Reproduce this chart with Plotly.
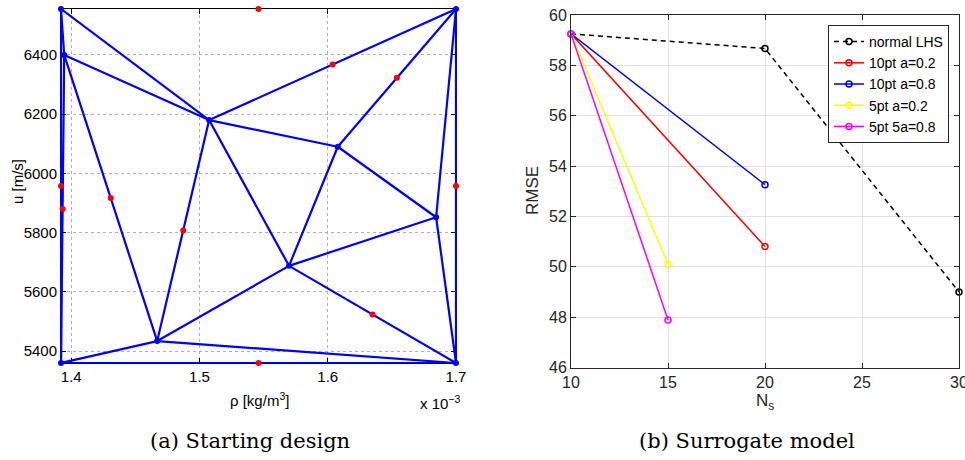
import plotly.graph_objects as go

# ---------------- Left panel data (rho in 1e-3 kg/m^3, u in m/s) ----------------
node_rho = [1.392, 1.700, 1.392, 1.700, 1.3945, 1.5075, 1.6078, 1.6845, 1.5698, 1.467]
node_u = [6555, 6555, 5360, 5360, 6400, 6180, 6090, 5852, 5688, 5434]
edges = [(0, 4), (4, 2), (0, 2), (0, 5), (4, 5), (4, 9), (5, 1), (5, 6), (6, 1),
         (5, 9), (5, 8), (6, 8), (6, 7), (7, 1), (7, 3), (8, 7), (8, 9), (8, 3),
         (9, 2), (9, 3), (2, 3), (1, 3)]
red_rho = [1.546, 1.546, 1.392, 1.700, 1.3933, 1.6038, 1.6539, 1.4308, 1.4873, 1.6349]
red_u = [6555, 5360, 5957.5, 5957.5, 5880, 6367.5, 6322.5, 5917, 5807, 5524]
left_xticks = [1.4, 1.5, 1.6, 1.7]
left_yticks = [5400, 5600, 5800, 6000, 6200, 6400]

# ---------------- Right panel data ----------------
ns_lhs = [10, 20, 30]
rmse_lhs = [59.25, 58.67, 49.0]
ns_10 = [10, 20]
rmse_10_a02 = [59.25, 50.81]
rmse_10_a08 = [59.25, 53.26]
ns_5 = [10, 15]
rmse_5_a02 = [59.25, 50.1]
rmse_5_a08 = [59.25, 47.89]
right_xticks = [10, 15, 20, 25, 30]
right_yticks = [46, 48, 50, 52, 54, 56, 58, 60]

W, H = 965, 460
def px(x):
    return x / W
def py(y):
    return 1 - y / H

fig = go.Figure()

# edges
ex, ey = [], []
for a, b in edges:
    ex += [node_rho[a], node_rho[b], None]
    ey += [node_u[a], node_u[b], None]
fig.add_trace(go.Scatter(x=ex, y=ey, mode="lines", line=dict(color="#0000ff", width=2.2),
                         xaxis="x", yaxis="y", showlegend=False, cliponaxis=False,
                         hoverinfo="skip"))
fig.add_trace(go.Scatter(x=node_rho, y=node_u, mode="markers",
                         marker=dict(color="#0000ff", size=6),
                         xaxis="x", yaxis="y", showlegend=False, cliponaxis=False))
fig.add_trace(go.Scatter(x=red_rho, y=red_u, mode="markers",
                         marker=dict(color="#ff0000", size=6),
                         xaxis="x", yaxis="y", showlegend=False, cliponaxis=False))

# right panel
mk = dict(symbol="circle-open", size=6, line=dict(width=1.5))
fig.add_trace(go.Scatter(x=ns_lhs, y=rmse_lhs, mode="lines+markers", name="normal LHS",
                         line=dict(color="black", width=1.5, dash="5px,4px"),
                         marker=dict(color="black", **mk), xaxis="x2", yaxis="y2",
                         cliponaxis=False))
fig.add_trace(go.Scatter(x=ns_10, y=rmse_10_a02, mode="lines+markers", name="10pt a=0.2",
                         line=dict(color="#ff0000", width=1.5),
                         marker=dict(color="#ff0000", **mk), xaxis="x2", yaxis="y2",
                         cliponaxis=False))
fig.add_trace(go.Scatter(x=ns_10, y=rmse_10_a08, mode="lines+markers", name="10pt a=0.8",
                         line=dict(color="#0000ff", width=1.5),
                         marker=dict(color="#0000ff", **mk), xaxis="x2", yaxis="y2",
                         cliponaxis=False))
fig.add_trace(go.Scatter(x=ns_5, y=rmse_5_a02, mode="lines+markers", name="5pt a=0.2",
                         line=dict(color="#ffff00", width=1.5),
                         marker=dict(color="#ffff00", **mk), xaxis="x2", yaxis="y2",
                         cliponaxis=False))
fig.add_trace(go.Scatter(x=ns_5, y=rmse_5_a08, mode="lines+markers", name="5pt 5a=0.8",
                         line=dict(color="#ff00ff", width=1.5),
                         marker=dict(color="#ff00ff", **mk), xaxis="x2", yaxis="y2",
                         cliponaxis=False))

sans = "Liberation Sans, Arial, sans-serif"
left_axis_common = dict(showline=True, linewidth=1, mirror="ticks",
                        ticks="inside", ticklen=5, tickcolor="#000000",
                        showgrid=True, gridcolor="#b0b0b0", griddash="dot", gridwidth=1,
                        zeroline=False, layer="below traces", automargin=False,
                        tickfont=dict(family=sans, size=15, color="#000000"))
right_axis_common = dict(showline=True, linecolor="#262626", linewidth=1, mirror="ticks",
                         ticks="inside", ticklen=5, tickcolor="#262626",
                         showgrid=True, gridcolor="#e0e0e0", gridwidth=1,
                         zeroline=False, layer="above traces", automargin=False,
                         ticklabeloverflow="allow",
                         tickfont=dict(family=sans, size=16, color="#262626"))

fig.update_layout(
    width=W, height=H, autosize=False,
    margin=dict(l=0, r=0, t=0, b=0, autoexpand=False),
    paper_bgcolor="white", plot_bgcolor="white",
    xaxis=dict(domain=[px(61), px(456)], range=[1.392, 1.700], anchor="y",
               tickvals=left_xticks, ticktext=[f"{v:.1f}" for v in left_xticks],
               linecolor="#000000", ticklabeloverflow="allow", **left_axis_common),
    yaxis=dict(domain=[py(363), py(9)], range=[5360, 6555], anchor="x",
               linecolor="#0000ff", tickvals=left_yticks, **left_axis_common),
    xaxis2=dict(domain=[px(571), px(959)], range=[10, 30], anchor="y2",
                tickvals=right_xticks, **right_axis_common),
    yaxis2=dict(domain=[py(367.5), py(15)], range=[46, 60], anchor="x2",
                tickvals=right_yticks, **right_axis_common),
    legend=dict(x=px(949), y=py(25), xanchor="right", yanchor="top",
                bgcolor="white", bordercolor="#262626", borderwidth=1,
                font=dict(family=sans, size=14, color="#000000"),
                itemwidth=30, tracegroupgap=0),
    showlegend=True,
)

ann = [
    dict(text="u [m/s]", x=px(18), y=py(182), textangle=-90, font=dict(family=sans, size=15, color="#000")),
    dict(text="ρ [kg/m<sup>3</sup>]", x=px(259), y=py(399), font=dict(family=sans, size=15, color="#000")),
    dict(text="x 10<sup>−3</sup>", x=px(440), y=py(402), font=dict(family=sans, size=15, color="#000")),
    dict(text="RMSE", x=px(533), y=py(191), textangle=-90, font=dict(family=sans, size=17, color="#262626")),
    dict(text="N<sub>s</sub>", x=px(765), y=py(402), font=dict(family=sans, size=17, color="#262626")),
    dict(text="(a) Starting design", x=px(250), y=py(441), font=dict(family="DejaVu Serif", size=21, color="#000")),
    dict(text="(b) Surrogate model", x=px(747), y=py(441), font=dict(family="DejaVu Serif", size=21, color="#000")),
]
for a in ann:
    fig.add_annotation(xref="paper", yref="paper", showarrow=False,
                       xanchor="center", yanchor="middle", **a)

fig.write_html("out.html", config={"displayModeBar": False},
               post_script="document.body.style.margin='0';document.body.style.overflow='hidden';")
